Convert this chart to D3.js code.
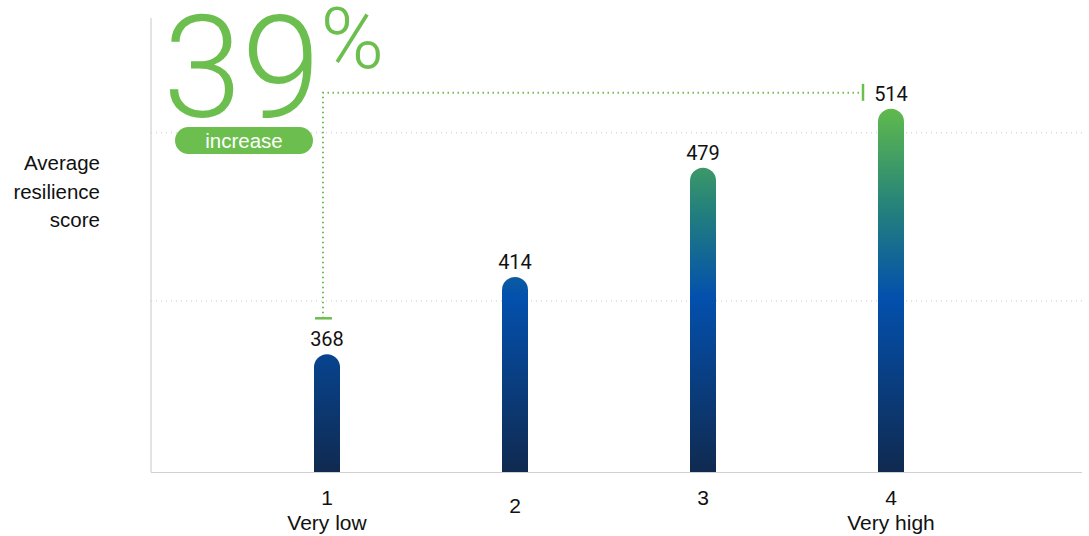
<!DOCTYPE html>
<html>
<head>
<meta charset="utf-8">
<script src="https://cdn.jsdelivr.net/npm/d3@7"></script>
<style>
  body { margin: 0; background: #fff; }
  svg { display: block; font-family: "Liberation Sans", Arial, sans-serif; }
  .gridlines line { stroke: #c8c8c8; stroke-dasharray: 1 4; }
  .gridlines path { display: none; }
</style>
</head>
<body>
<svg id="chart" width="1089" height="536"></svg>
<script>
  // data
  const levels = ["1", "2", "3", "4"];
  const levelNames = ["Very low", "", "", "Very high"];
  const scores = [368, 414, 479, 514];
  const gridValues = [400, 500];
  const increase = "39";

  let svg = d3.select("svg#chart");
  let margin = { top: 18, right: 7, bottom: 64, left: 151 };
  let width = +svg.attr("width");
  let height = +svg.attr("height");
  let chartWidth = width - margin.left - margin.right;
  let chartHeight = height - margin.top - margin.bottom;
  let base = margin.top + chartHeight;

  const green = "#6cbf4e";

  const x = d3.scalePoint()
    .domain(levels)
    .range([margin.left + 176, margin.left + 740]);

  const y = d3.scaleLinear()
    .domain([298, 568])
    .range([base, margin.top]);

  // gradient spans the whole plot so each bar shows its own slice
  let defs = svg.append("defs");
  let grad = defs.append("linearGradient")
    .attr("id", "barGrad")
    .attr("gradientUnits", "userSpaceOnUse")
    .attr("x1", 0).attr("x2", 0)
    .attr("y1", y(d3.max(scores))).attr("y2", base);
  [[0, "#5fba4c"], [0.28, "#23807c"], [0.52, "#0350ad"], [1, "#102a50"]].forEach(s => {
    grad.append("stop").attr("offset", s[0]).attr("stop-color", s[1]);
  });

  // gridlines
  svg.append("g").attr("class", "gridlines")
    .attr("transform", "translate(" + margin.left + ",0)")
    .call(d3.axisLeft(y).tickValues(gridValues).tickSize(-chartWidth).tickFormat(""));

  // axes lines
  svg.append("line")
    .attr("x1", margin.left).attr("x2", margin.left)
    .attr("y1", margin.top).attr("y2", base)
    .attr("stroke", "#d0d0d0").attr("stroke-width", 1.2);
  svg.append("line")
    .attr("x1", margin.left).attr("x2", margin.left + chartWidth)
    .attr("y1", base + 0.5).attr("y2", base + 0.5)
    .attr("stroke", "#d0d0d0").attr("stroke-width", 1.2);

  // bars with rounded tops
  let bw = 26, r = bw / 2;
  let bars = svg.append("g");
  scores.forEach((v, i) => {
    let cx = x(levels[i]);
    let top = y(v);
    let x0 = cx - r, x1 = cx + r;
    bars.append("path")
      .attr("d", "M" + x0 + "," + base + "V" + (top + r) +
                 "A" + r + "," + r + " 0 0 1 " + x1 + "," + (top + r) +
                 "V" + base + "Z")
      .attr("fill", "url(#barGrad)");
    bars.append("text")
      .attr("x", cx).attr("y", top - 8)
      .attr("text-anchor", "middle")
      .attr("font-family", "Roboto, sans-serif")
      .attr("font-size", 20)
      .attr("fill", "#111")
      .text(v);
  });

  // x labels
  let xl = svg.append("g")
    .attr("font-size", 21).attr("fill", "#111").attr("text-anchor", "middle");
  levels.forEach((d, i) => {
    let t = xl.append("text").attr("x", x(d));
    if (levelNames[i]) {
      t.attr("y", base + 33).text(d);
      xl.append("text").attr("x", x(d)).attr("y", base + 58).text(levelNames[i]);
    } else {
      t.attr("y", base + (i == 1 ? 41 : 33)).text(d);
    }
  });

  // y label
  let yl = svg.append("text")
    .attr("text-anchor", "end").attr("font-size", 20.5).attr("fill", "#111");
  ["Average", "resilience", "score"].forEach((s, i) => {
    yl.append("tspan").attr("x", 100).attr("y", 170 + i * 28.5).text(s);
  });

  // increase annotation: bracket from first to last bar
  let x1a = x(levels[0]) - 4, x4a = x(levels[3]) - 31;
  let topY = y(d3.max(scores)) - 16;
  let botY = y(scores[0]) - 36;
  svg.append("path")
    .attr("d", "M" + x1a + "," + botY + "V" + topY + "H" + x4a)
    .attr("fill", "none").attr("stroke", green)
    .attr("stroke-width", 2).attr("stroke-dasharray", "1.5 3.5");
  svg.append("line")
    .attr("x1", x1a - 8).attr("x2", x1a + 9)
    .attr("y1", botY).attr("y2", botY)
    .attr("stroke", green).attr("stroke-width", 2.5);
  svg.append("line")
    .attr("x1", x4a + 3).attr("x2", x4a + 3)
    .attr("y1", topY - 9).attr("y2", topY + 8)
    .attr("stroke", green).attr("stroke-width", 2.5);

  // big number
  let big = svg.append("text")
    .attr("x", 163).attr("y", 117)
    .attr("font-family", "Roboto, sans-serif")
    .attr("font-weight", 300)
    .attr("fill", green);
  big.append("tspan").attr("font-size", 142).text(increase);
  big.append("tspan").attr("font-size", 86).attr("dy", -49).text("%");

  // pill
  svg.append("rect")
    .attr("x", 175).attr("y", 127).attr("width", 138).attr("height", 27)
    .attr("rx", 13.5).attr("fill", green);
  svg.append("text")
    .attr("x", 244).attr("y", 148)
    .attr("text-anchor", "middle").attr("font-size", 20.5).attr("fill", "#fff")
    .text("increase");
</script>
</body>
</html>
